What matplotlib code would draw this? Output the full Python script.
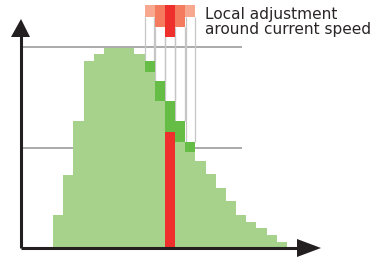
import matplotlib
matplotlib.use("Agg")
import matplotlib.pyplot as plt
from matplotlib.patches import Polygon

# ---- data ----
bins = list(range(23))
base_heights = [16.5, 36.5, 63.5, 93.5, 97, 100, 100, 100, 97, 88, 73.5, 0,
                53, 48, 43.5, 37, 30, 23.5, 16.5, 13, 10, 6.5, 3]
adj_bins = [9, 10, 11, 12, 13]
adj_tops = [93.5, 83.5, 73.5, 63.5, 53]
current_bin = 11
current_height = 58
band_bins = [9, 10, 11, 12, 13]
band_bottoms = [115.5, 110.5, 105.5, 110.5, 115.5]
band_colors = ["#f8a88e", "#f47b5e", "#ee2f2c", "#f47b5e", "#f8a88e"]
ref_levels = [100.5, 50]
label = "Local adjustment\naround current speed"

W, H = 381, 257
fig = plt.figure(figsize=(W / 100, H / 100), dpi=100)
ax = fig.add_axes([0, 0, 1, 1])
px = 10.17
x0 = 53
ax.set_xlim(-x0 / px, (W - x0) / px)
ax.set_ylim(-(H - 248) / 2, 248 / 2)
ax.axis("off")

light = "#a6d28b"
dark = "#66bd45"
red = "#ee2f2c"
band_top = 121.5

# reference lines
for lv in ref_levels:
    ax.plot([(21 - x0) / px, (242 - x0) / px], [lv, lv], color="#9c9c9c", lw=1.2, zorder=1,
            solid_capstyle="butt")

# light bars
ax.bar(bins, base_heights, width=1.0, align="edge", color=light, edgecolor="none", zorder=2)

# adjustment columns
for b, top in zip(adj_bins, adj_tops):
    lower = base_heights[b] if b != current_bin else current_height
    ax.bar(b, top - lower, bottom=lower, width=1.0, align="edge", color=dark,
           edgecolor="none", zorder=3)

ax.bar(current_bin, current_height, width=1.0, align="edge", color=red, edgecolor="none", zorder=3)

# top bands and column outlines (vertical edges only)
for b, bot, c, top in zip(band_bins, band_bottoms, band_colors, adj_tops):
    ax.bar(b, band_top - bot, bottom=bot, width=1.0, align="edge", color=c,
           edgecolor="none", zorder=4)
    for xe in (b + 0.03, b + 0.97):
        ax.plot([xe, xe], [top, bot], color="#c6c6c6", lw=0.9, zorder=1.5,
                solid_capstyle="butt")

# axes arrows
axis_c = "#231f20"
yx = (21 - x0) / px
ax.plot([yx, yx], [0, 110], color=axis_c, lw=2.2, zorder=5, solid_capstyle="butt")
ax.add_patch(Polygon([[(11 - x0) / px, 105.5], [(30 - x0) / px, 105.5], [yx, 114.5]],
                     closed=True, color=axis_c, zorder=5, lw=0))
ax.plot([yx, (300 - x0) / px], [0, 0], color=axis_c, lw=2.2, zorder=5, solid_capstyle="butt")
ax.add_patch(Polygon([[(297 - x0) / px, 4.5], [(297 - x0) / px, -4.5], [(321 - x0) / px, 0]],
                     closed=True, color=axis_c, zorder=5, lw=0))

ax.text((205 - x0) / px, 124 - 7 / 2, label, fontsize=11.1, color="#2a2627",
        va="top", ha="left", linespacing=1.02, family="DejaVu Sans")

fig.savefig("out.png", dpi=100)
